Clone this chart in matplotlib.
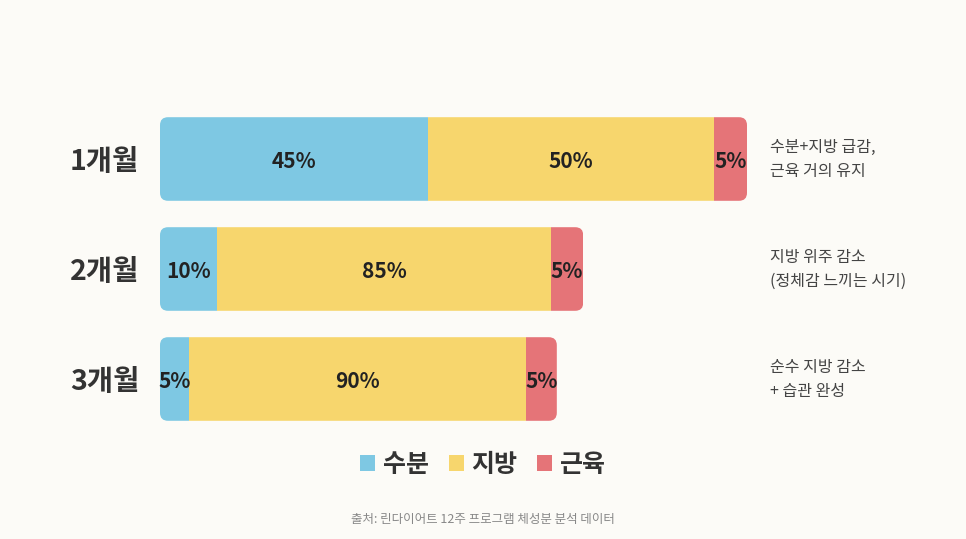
import numpy as np
import matplotlib
matplotlib.use("Agg")
import matplotlib.pyplot as plt
from matplotlib.patches import FancyBboxPatch, Patch

plt.rcParams['font.family'] = ['Noto Sans CJK KR', 'DejaVu Sans']

# data
months = ["1개월", "2개월", "3개월"]
parts = ["수분", "지방", "근육"]
# shares shown as labels (%)
water_pct = [45, 10, 5]
fat_pct = [50, 85, 90]
muscle_pct = [5, 5, 5]
# drawn segment lengths (relative, 1개월 bar = 100)
water_len = [45.7, 9.7, 4.9]
fat_len = [48.7, 56.9, 57.4]
muscle_len = [5.6, 5.5, 5.3]
notes = [
    ["수분+지방 급감,", "근육 거의 유지"],
    ["지방 위주 감소", "(정체감 느끼는 시기)"],
    ["순수 지방 감소", "+ 습관 완성"],
]
source = "출처: 린다이어트 12주 프로그램 체성분 분석 데이터"

colors = ["#7ec8e3", "#f7d66d", "#e57478"]
bg = "#fcfbf7"

W, H = 966, 539
fig = plt.figure(figsize=(W / 100, H / 100), dpi=100, facecolor=bg)
ax = fig.add_axes([160 / W, (539 - 434) / H, 587 / W, 330 / H])
ax.set_facecolor(bg)
ax.set_xlim(0, 100)
ax.set_ylim(2.5, -0.5)
for s in ax.spines.values():
    s.set_visible(False)
ax.set_xticks([])
ax.set_yticks(range(len(months)))
ax.set_yticklabels(months, fontsize=20.5, fontweight='bold', color="#333333")
ax.tick_params(axis='y', length=0, pad=15)

y = np.arange(len(months))
bar_h = 0.76
lens = [water_len, fat_len, muscle_len]
pcts = [water_pct, fat_pct, muscle_pct]

# rounded outline used as clip for each bar
px_x = 100 / 587.0
px_y = 3 / 330.0
radius = 8 * px_x
aspect = px_y / px_x
totals = np.array(water_len) + np.array(fat_len) + np.array(muscle_len)

left = np.zeros(len(months))
for k in range(3):
    bars = ax.barh(y, lens[k], left=left, height=bar_h, color=colors[k],
                   linewidth=0, label=parts[k])
    for i, b in enumerate(bars):
        clip = FancyBboxPatch((0, y[i] - bar_h / 2), totals[i], bar_h,
                              boxstyle="round,pad=0,rounding_size=%f" % radius,
                              mutation_aspect=aspect, transform=ax.transData)
        b.set_clip_path(clip)
        ax.text(left[i] + lens[k][i] / 2, y[i] + 0.02, "%d%%" % pcts[k][i],
                ha='center', va='center', fontsize=15, fontweight='bold',
                color="#222222")
    left = left + np.array(lens[k])

# side notes
tr = ax.get_yaxis_transform()
for i, lines in enumerate(notes):
    for j, line in enumerate(lines):
        ax.annotate(line, xy=(1.039, y[i]), xycoords=tr,
                    xytext=(0, 8.5 if j == 0 else -9), textcoords='offset points',
                    ha='left', va='center', fontsize=11.5, color="#444444")

handles = [Patch(facecolor=c, edgecolor='none') for c in colors]
fig.legend(handles, parts, loc='center', bbox_to_anchor=(483 / W, 1 - 465 / H),
           ncol=3, frameon=False, handlelength=0.6, handleheight=0.6,
           handletextpad=0.3, columnspacing=0.8,
           prop={'family': ['Noto Sans CJK KR', 'DejaVu Sans'], 'weight': 'bold', 'size': 18},
           labelcolor="#333333")

fig.text(483 / W, 1 - 520 / H, source, ha='center', va='center',
         fontsize=9, color="#888888")

fig.savefig("out.png", dpi=100, facecolor=bg)
